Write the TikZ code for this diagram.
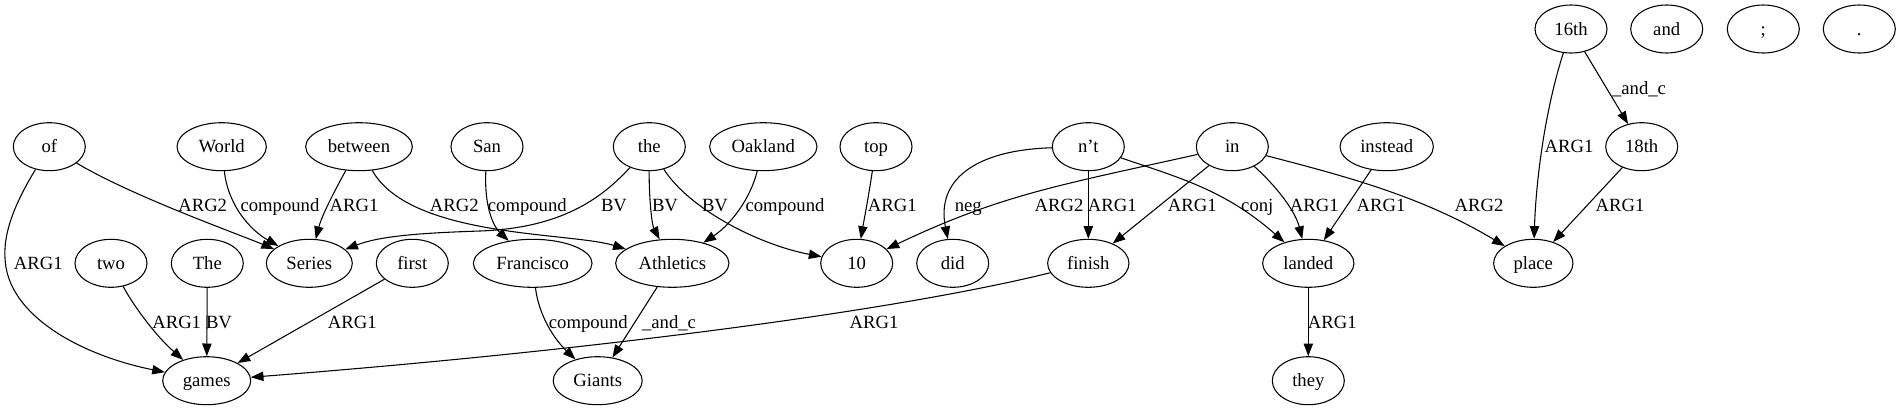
\documentclass[tikz,border=0pt]{standalone}
\usepackage{fontspec}
\setmainfont{Liberation Serif}
\usetikzlibrary{arrows.meta,shapes.geometric}
\begin{document}
\begin{tikzpicture}[x=0.75pt,y=-0.75pt,
  nd/.style={draw,ellipse,inner sep=0pt,minimum width=54pt,minimum height=36pt,
    text height=12pt,text depth=3pt,font=\fontsize{14}{16}\selectfont,line width=0.8pt},
  lbl/.style={inner sep=0pt,anchor=base,font=\fontsize{14}{16}\selectfont},
  lnk/.style={draw,line width=0.8pt,-{Triangle[length=9.5pt,width=7pt]}}]
\useasboundingbox (0,0) rectangle (1901,411);
% top row
\node[nd] (16th) at (1571,29) {16th};
\node[nd] (and) at (1666.7,29) {and};
\node[nd] (semi) at (1763.3,29) {;};
\node[nd] (dot) at (1859.3,29) {.};
% row 1
\node[nd] (of) at (49.3,146.7) {of};
\node[nd,minimum width=67pt] (World) at (221.7,146.7) {World};
\node[nd,minimum width=80pt] (between) at (359,146.7) {between};
\node[nd] (San) at (487,146.7) {San};
\node[nd] (the) at (649.3,146.7) {the};
\node[nd,minimum width=80.5pt] (Oakland) at (763.3,146.7) {Oakland};
\node[nd] (top) at (876,146.7) {top};
\node[nd] (nt) at (1088.3,146.7) {n’t};
\node[nd] (in) at (1232.3,146.7) {in};
\node[nd,minimum width=70pt] (instead) at (1386.7,146.7) {instead};
\node[nd] (18th) at (1641.7,146.7) {18th};
% row 2
\node[nd] (two) at (111,263.3) {two};
\node[nd] (The) at (207.3,263.3) {The};
\node[nd,minimum width=64.5pt] (Series) at (309.3,263.3) {Series};
\node[nd] (first) at (412.3,263.3) {first};
\node[nd,minimum width=89pt] (Francisco) at (532.7,263.3) {Francisco};
\node[nd,minimum width=85pt] (Athletics) at (672.3,263.3) {Athletics};
\node[nd] (10) at (856.7,263.3) {10};
\node[nd] (did) at (952.7,263.3) {did};
\node[nd,minimum width=61pt] (finish) at (1088.3,263.3) {finish};
\node[nd,minimum width=68.5pt] (landed) at (1308.3,263.3) {landed};
\node[nd,minimum width=59.5pt] (place) at (1533.3,263.3) {place};
% row 3
\node[nd,minimum width=66pt] (games) at (206.7,380.7) {games};
\node[nd,minimum width=66.75pt] (Giants) at (597.7,380.7) {Giants};
\node[nd] (they) at (1308.3,380.7) {they};
% edges
\draw[lnk] (of) .. controls (130,195) and (230,231) .. (Series);
\draw[lnk] (of) .. controls (20,195) and (3,228) .. (5,258) .. controls (7,315) and (80,355) .. (games);
\draw[lnk] (World) .. controls (228,205) and (250,230) .. (Series);
\draw[lnk] (between) .. controls (335,190) and (322,215) .. (Series);
\draw[lnk] (between) .. controls (410,238) and (570,232) .. (Athletics);
\draw[lnk] (San) .. controls (484,210) and (495,228) .. (Francisco);
\draw[lnk] (the) .. controls (600,200) and (560,228) .. (480,231) .. controls (420,233) and (380,236) .. (Series);
\draw[lnk] (the) .. controls (649,200) and (652,225) .. (Athletics);
\draw[lnk] (the) .. controls (690,210) and (760,245) .. (10);
\draw[lnk] (Oakland) .. controls (750,200) and (730,225) .. (Athletics);
\draw[lnk] (top) .. controls (868,200) and (864,220) .. (10);
\draw[lnk] (nt) .. controls (975,150) and (936,180) .. (did);
\draw[lnk] (nt) -- (finish);
\draw[lnk] (in) .. controls (1060,185) and (1000,195) .. (10);
\draw[lnk] (in) -- (finish);
\draw[lnk] (nt) .. controls (1180,178) and (1225,190) .. (landed);
\draw[lnk] (in) .. controls (1275,185) and (1295,210) .. (landed);
\draw[lnk] (instead) -- (landed);
\draw[lnk] (in) .. controls (1340,175) and (1420,195) .. (place);
\draw[lnk] (16th) .. controls (1545,110) and (1536,180) .. (place);
\draw[lnk] (16th) -- (18th);
\draw[lnk] (18th) -- (place);
\draw[lnk] (finish) .. controls (900,310) and (600,350) .. (games);
\draw[lnk] (two) .. controls (133,305) and (155,335) .. (games);
\draw[lnk] (The) -- (games);
\draw[lnk] (first) -- (games);
\draw[lnk] (Francisco) .. controls (538,310) and (550,335) .. (Giants);
\draw[lnk] (Athletics) -- (Giants);
\draw[lnk] (landed) -- (they);
% labels
\node[lbl] (l1) at (202.7,211) {ARG2};
\node[lbl] (l2) at (38.3,269.3) {ARG1};
\node[lbl] (l3) at (280,211) {compound};
\node[lbl] (l4) at (354,211) {ARG1};
\node[lbl] (l5) at (454.3,211) {ARG2};
\node[lbl] (l6) at (176.7,328.3) {ARG1};
\node[lbl] (l7) at (219,328.3) {BV};
\node[lbl] (l8) at (352.3,328.3) {ARG1};
\node[lbl] (l9) at (527.3,211) {compound};
\node[lbl] (l10) at (614,211) {BV};
\node[lbl] (l11) at (665,211) {BV};
\node[lbl] (l12) at (715,211) {BV};
\node[lbl] (l13) at (785,211) {compound};
\node[lbl] (l14) at (892.3,211) {ARG1};
\node[lbl] (l15) at (588.3,328.3) {compound};
\node[lbl] (l16) at (669,328.3) {\_and\_c};
\node[lbl] (l17) at (874,328.3) {ARG1};
\node[lbl] (l18) at (968.3,211) {neg};
\node[lbl] (l19) at (1059,211) {ARG2};
\node[lbl] (l20) at (1112.3,211) {ARG1};
\node[lbl] (l21) at (1192.3,211) {ARG1};
\node[lbl] (l22) at (1257.3,211) {conj};
\node[lbl] (l23) at (1314.3,211) {ARG1};
\node[lbl] (l24) at (1381,211) {ARG1};
\node[lbl] (l25) at (1332.3,328.3) {ARG1};
\node[lbl] (l26) at (1639,94.3) {\_and\_c};
\node[lbl] (l27) at (1569,152.7) {ARG1};
\node[lbl] (l28) at (1479,211) {ARG2};
\node[lbl] (l29) at (1620,211) {ARG1};
\end{tikzpicture}
\end{document}
